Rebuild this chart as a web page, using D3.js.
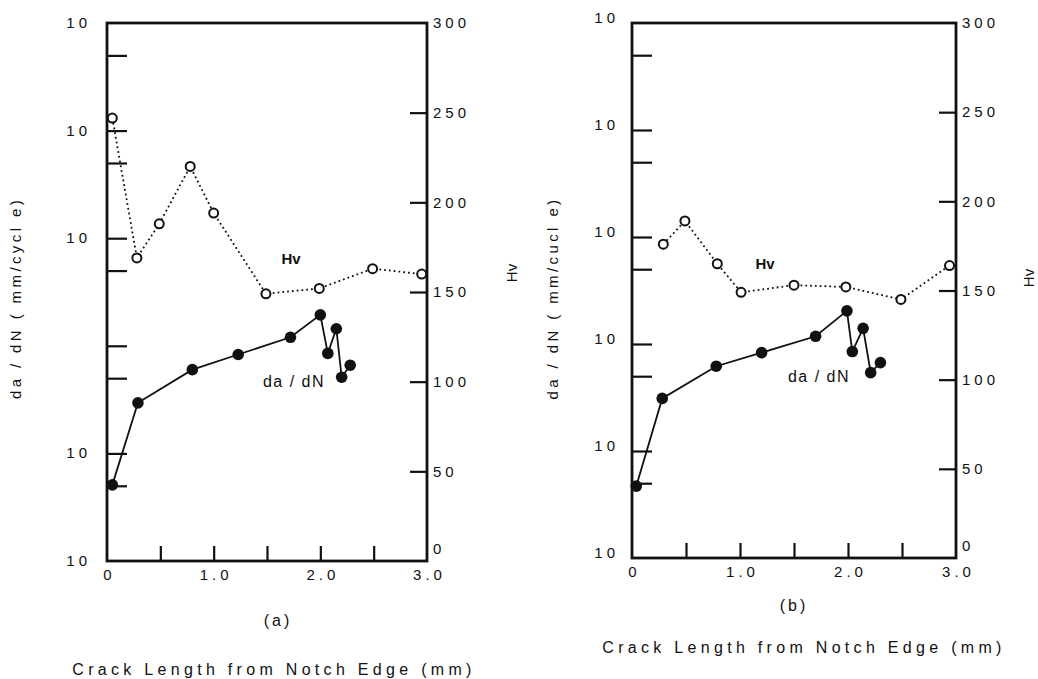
<!DOCTYPE html>
<html>
<head>
<meta charset="utf-8">
<script src="https://cdn.jsdelivr.net/npm/d3@7"></script>
<style>
    body { margin: 0; background: #fff; }
    svg text { font-family: "Liberation Sans", Arial, sans-serif; fill: #111; }
</style>
</head>
<body>
<div id="chart"></div>
<script>
// crack length (mm) and values
const crackA_hv = [0.05, 0.28, 0.49, 0.78, 1.0, 1.49, 1.99, 2.49, 2.95];
const hvA = [247, 169, 188, 220, 194, 149, 152, 163, 160];
const crackA_rate = [0.05, 0.29, 0.80, 1.23, 1.72, 2.0, 2.07, 2.15, 2.20, 2.28];
const rateA = [5.1e-7, 2.95e-6, 6.0e-6, 8.3e-6, 1.2e-5, 1.94e-5, 8.5e-6, 1.44e-5, 5.1e-6, 6.6e-6];

const crackB_hv = [0.29, 0.49, 0.79, 1.01, 1.50, 1.98, 2.49, 2.94];
const hvB = [176, 189, 165, 149, 153, 152, 145, 164];
const crackB_rate = [0.04, 0.28, 0.78, 1.2, 1.70, 1.99, 2.04, 2.14, 2.21, 2.30];
const rateB = [4.7e-7, 3.1e-6, 6.2e-6, 8.3e-6, 1.18e-5, 2.04e-5, 8.5e-6, 1.4e-5, 5.4e-6, 6.7e-6];

// axis ticks
const xTickMarks = [0.5, 1.0, 1.5, 2.0, 2.5];
const xTickLabels = [0, 1, 2, 3];
const hvTicks = [0, 50, 100, 150, 200, 250, 300];
const rateDecades = [1e-7, 1e-6, 1e-5, 1e-4, 1e-3, 1e-2];
const rateMinor = [5e-7, 5e-6, 5e-5, 5e-4, 5e-3];

const svg = d3.select("#chart").append("svg")
    .attr("width", 1038)
    .attr("height", 679);

class CrackPanel {
    constructor(svg, box, opts) {
        this.svg = svg;
        this.box = box;
        this.opts = opts;
        this.initVis();
    }

    initVis() {
        let vis = this;
        let b = vis.box;

        vis.g = vis.svg.append("g");

        vis.x = d3.scaleLinear().domain([0, 3]).range([b.left, b.right]);
        vis.yRate = d3.scaleLog().domain([1e-7, 1e-2]).range([b.bottom, b.top]);
        vis.yHv = d3.scaleLinear().domain([0, 300]).range([b.bottom, b.top]);

        // frame
        vis.g.append("rect")
            .attr("x", b.left).attr("y", b.top)
            .attr("width", b.right - b.left).attr("height", b.bottom - b.top)
            .attr("fill", "none").attr("stroke", "#111").attr("stroke-width", 2.8);

        // bottom ticks pointing up
        let xt = vis.g.append("g")
            .attr("transform", `translate(0, ${b.bottom})`)
            .call(d3.axisBottom(vis.x).tickValues(xTickMarks).tickSizeInner(-15).tickSizeOuter(0).tickFormat(""));
        xt.select(".domain").remove();
        xt.selectAll("line").attr("stroke", "#111").attr("stroke-width", 2.2);

        // bottom labels
        let xl = vis.g.append("g")
            .attr("transform", `translate(0, ${b.bottom})`)
            .call(d3.axisBottom(vis.x).tickValues(xTickLabels).tickSize(0).tickPadding(8)
                .tickFormat(d => d === 0 ? "0" : d3.format(".1f")(d)));
        xl.select(".domain").remove();
        xl.selectAll("text")
            .style("font-size", "15px")
            .style("letter-spacing", "4px")
            .attr("dx", "2px");

        // Hv axis on the right
        let hv = vis.g.append("g")
            .attr("transform", `translate(${b.right}, 0)`)
            .call(d3.axisRight(vis.yHv).tickValues(hvTicks).tickSizeInner(-17).tickSizeOuter(0).tickPadding(6));
        hv.select(".domain").remove();
        hv.selectAll("line").attr("stroke", "#111").attr("stroke-width", 2.2);
        hv.selectAll("line").filter(d => d === 0 || d === 300).remove();
        hv.selectAll("text")
            .style("font-size", "15px")
            .style("letter-spacing", "4px")
            .attr("dy", d => d === 0 ? "-0.5em" : "0.32em");

        // da/dN log axis on the left: ticks inward, "10" labels outside
        let lt = vis.g.append("g")
            .attr("transform", `translate(${b.left}, 0)`)
            .call(d3.axisRight(vis.yRate)
                .tickValues(rateDecades.slice(1, -1).concat(rateMinor))
                .tickSize(20).tickFormat(""));
        lt.select(".domain").remove();
        lt.selectAll("line").attr("stroke", "#111").attr("stroke-width", 2.2);

        vis.g.selectAll(".decade-label")
            .data(rateDecades.filter((d, i) => vis.opts.decadeLabels[i]))
            .join("text")
            .attr("class", "decade-label")
            .attr("x", b.left - vis.opts.labelGap)
            .attr("y", d => vis.yRate(d) + vis.opts.labelShift)
            .attr("text-anchor", "end")
            .style("font-size", "15px")
            .style("letter-spacing", "4px")
            .text("10");

        // Hv series (open circles, dotted)
        let hvData = vis.opts.hvX.map((c, i) => ({c: c, v: vis.opts.hv[i]}));
        let hvLine = d3.line().x(d => vis.x(d.c)).y(d => vis.yHv(d.v));
        vis.g.append("path")
            .datum(hvData)
            .attr("d", hvLine)
            .attr("fill", "none")
            .attr("stroke", "#111")
            .attr("stroke-width", 1.8)
            .attr("stroke-dasharray", "1.8,3");
        vis.g.selectAll(".hv-dot")
            .data(hvData)
            .join("circle")
            .attr("class", "hv-dot")
            .attr("cx", d => vis.x(d.c))
            .attr("cy", d => vis.yHv(d.v))
            .attr("r", 4.5)
            .attr("fill", "#fff")
            .attr("stroke", "#111")
            .attr("stroke-width", 2);

        // da/dN series (filled circles, solid)
        let rateData = vis.opts.rateX.map((c, i) => ({c: c, v: vis.opts.rate[i]}));
        let rateLine = d3.line().x(d => vis.x(d.c)).y(d => vis.yRate(d.v));
        vis.g.append("path")
            .datum(rateData)
            .attr("d", rateLine)
            .attr("fill", "none")
            .attr("stroke", "#111")
            .attr("stroke-width", 1.8);
        vis.g.selectAll(".rate-dot")
            .data(rateData)
            .join("circle")
            .attr("class", "rate-dot")
            .attr("cx", d => vis.x(d.c))
            .attr("cy", d => vis.yRate(d.v))
            .attr("r", 5.8)
            .attr("fill", "#111");

        // in-plot labels
        vis.g.append("text")
            .attr("x", vis.opts.hvLabel[0]).attr("y", vis.opts.hvLabel[1])
            .attr("text-anchor", "middle")
            .style("font-size", "15px")
            .style("font-weight", "bold")
            .text("Hv");
        vis.g.append("text")
            .attr("x", vis.opts.rateLabel[0]).attr("y", vis.opts.rateLabel[1])
            .attr("text-anchor", "middle")
            .style("font-size", "16px")
            .style("letter-spacing", "1.5px")
            .text("da / dN");

        // axis titles
        vis.g.append("text")
            .attr("transform", `translate(${vis.opts.leftTitle[0]}, ${vis.opts.leftTitle[1]}) rotate(-90)`)
            .attr("text-anchor", "middle")
            .attr("dy", "0.35em")
            .style("font-size", "15px")
            .style("letter-spacing", "3.4px")
            .text(vis.opts.leftTitleText);
        vis.g.append("text")
            .attr("transform", `translate(${vis.opts.rightTitle[0]}, ${vis.opts.rightTitle[1]}) rotate(-90)`)
            .attr("text-anchor", "middle")
            .attr("dy", "0.35em")
            .style("font-size", "15px")
            .text("Hv");

        vis.g.append("text")
            .attr("x", vis.opts.caption[0]).attr("y", vis.opts.caption[1])
            .attr("text-anchor", "middle")
            .style("font-size", "16px")
            .style("letter-spacing", "3px")
            .text(vis.opts.captionText);

        vis.g.append("text")
            .attr("x", vis.opts.xTitle[0]).attr("y", vis.opts.xTitle[1])
            .attr("text-anchor", "middle")
            .style("font-size", "16px")
            .style("letter-spacing", "4.3px")
            .text("Crack Length from Notch Edge (mm)");
    }
}

new CrackPanel(svg, {left: 107, right: 427, top: 23, bottom: 561}, {
    hvX: crackA_hv, hv: hvA, rateX: crackA_rate, rate: rateA,
    decadeLabels: [true, true, false, true, true, true],
    labelGap: 16, labelShift: 5,
    hvLabel: [291, 264], rateLabel: [294, 387],
    leftTitle: [16, 298], leftTitleText: "da / dN ( mm/cycl e)",
    rightTitle: [512, 273],
    caption: [278, 626], captionText: "(a)",
    xTitle: [274, 675]
});

new CrackPanel(svg, {left: 632, right: 956, top: 23, bottom: 558}, {
    hvX: crackB_hv, hv: hvB, rateX: crackB_rate, rate: rateB,
    decadeLabels: [true, true, true, true, true, true],
    labelGap: 13, labelShift: 0,
    hvLabel: [765, 269], rateLabel: [819, 382],
    leftTitle: [553, 298], leftTitleText: "da / dN ( mm/cucl e)",
    rightTitle: [1029, 278],
    caption: [794, 611], captionText: "(b)",
    xTitle: [804, 653]
});
</script>
</body>
</html>
